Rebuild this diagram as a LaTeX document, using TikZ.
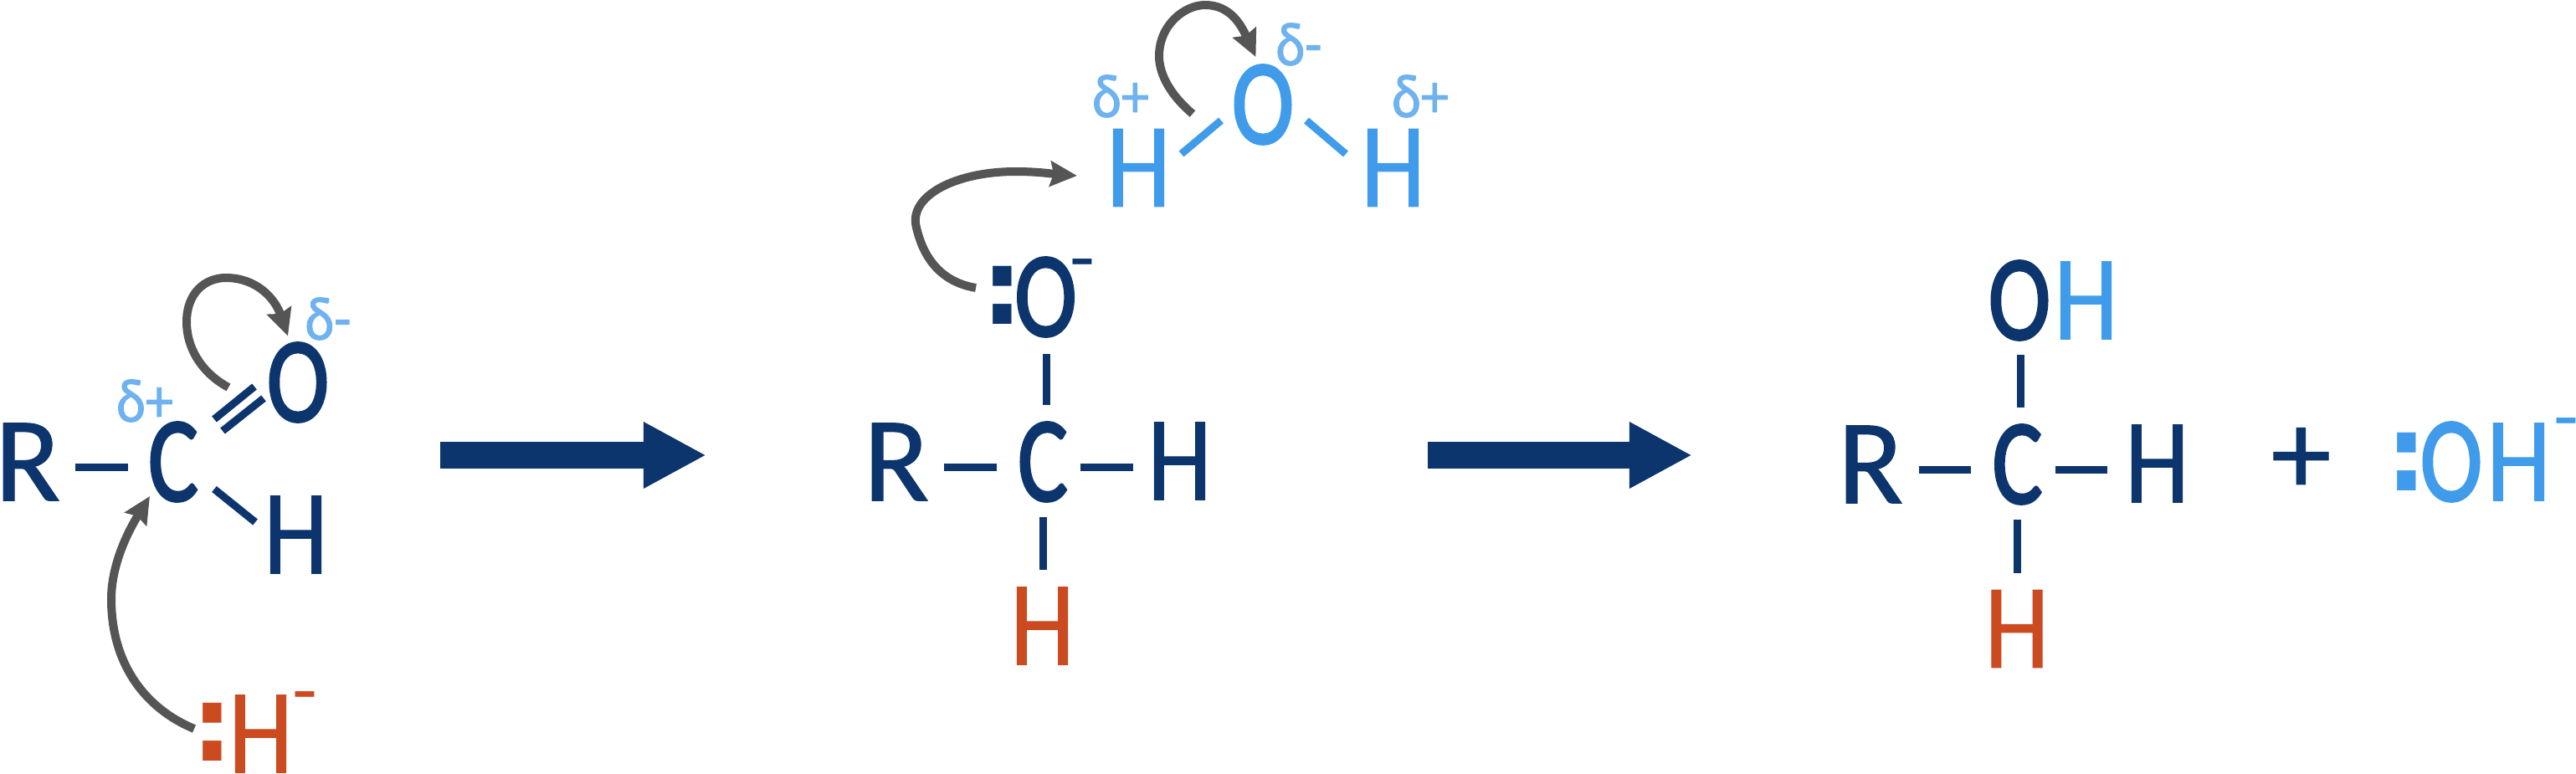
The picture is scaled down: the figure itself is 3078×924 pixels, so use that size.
\documentclass[tikz,border=0pt]{standalone}
\usepackage{fontspec}
\newfontfamily\chemfont[FakeBold=0.8]{Carlito}
\newfontfamily\roundfont[FakeBold=2.2]{Carlito}
\newfontfamily\deltafont[FakeBold=1.4]{Carlito}
\newfontfamily\dotfont{DejaVu Sans Bold}
\newfontfamily\dashfont{Liberation Sans Bold}
\usetikzlibrary{arrows.meta}
\definecolor{navy}{HTML}{0D356D}
\definecolor{waterblue}{HTML}{409CEA}
\definecolor{deltablue}{HTML}{6EB2F0}
\definecolor{hydride}{HTML}{CB4A1F}
\definecolor{curly}{HTML}{555555}
\tikzset{
    atom/.style={font=\chemfont\fontsize{41}{41}\selectfont, inner sep=0, outer sep=0},
    hatom/.style={atom, xscale=0.86, transform shape},
    ratom/.style={atom, font=\roundfont\fontsize{41}{41}\selectfont, xscale=0.78, transform shape},
    delta/.style={font=\deltafont\fontsize{21}{21}\selectfont, inner sep=0, text=deltablue, xscale=0.9, transform shape},
    lonepair/.style={font=\dotfont\fontsize{36}{36}\selectfont, inner sep=0, anchor=base},
    charge/.style={font=\dashfont\fontsize{16}{16}\selectfont, inner sep=0, anchor=base, xscale=1.6, transform shape},
    bond/.style={navy, line width=0.09cm},
    reaction/.style={navy, line width=0.31cm, -{Triangle[length=0.75cm,width=0.74cm]}},
    push/.style={curly, line width=0.1cm, -{Stealth[length=0.32cm,width=0.3cm,inset=0.04cm]}},
}
\begin{document}
\begin{tikzpicture}[x=0.01cm, y=-0.01cm]
    \useasboundingbox (0,0) rectangle (3078,924);

    % Aldehyde and hydride
    \node[atom, text=navy] (R1) at (33, 552) {R};
    \node[ratom, text=navy] (C1) at (207, 552) {C};
    \node[ratom, text=navy] (O1) at (356, 457) {O};
    \node[hatom, text=navy] (H1) at (353.5, 639) {H};
    \node[delta] (d1) at (173, 479) {δ+};
    \node[delta] (d2) at (392, 381) {δ-};
    \node[hatom, text=hydride] (H2) at (311.5, 877) {H};
    \node[lonepair, text=hydride] (p1) at (253.5, 909) {:};
    \node[charge, text=hydride] (m1) at (364.5, 844) {-};

    % Draw the bonds of the aldehyde
    \draw[bond] ([shift={(57,6)}]R1.center) -- ([shift={(-54,6)}]C1.center);
    \draw[bond] ([shift={(49,-51)}]C1.center) -- ([shift={(-52,5)}]O1.center);
    \draw[bond] ([shift={(59,-37)}]C1.center) -- ([shift={(-41,19)}]O1.center);
    \draw[bond] ([shift={(49,32.5)}]C1.center) -- ([shift={(-48.5,-15)}]H1.center);

    % Curly arrows of the first step
    \coordinate (a1) at (273, 463);
    \coordinate (a2) at (344, 401.5);
    \draw[push] (a1) .. controls (240,445) and (223,415) .. (223,385) .. controls (223,350) and (245,332) .. (270,332) .. controls (305,332) and (328,355) .. (a2);
    \coordinate (a3) at (232, 871);
    \coordinate (a4) at (179, 593);
    \draw[push] (a3) .. controls (170,845) and (133,790) .. (133,716) .. controls (133,678) and (150,640) .. (a4);

    % First reaction arrow
    \coordinate (r1) at (526, 544);
    \coordinate (r2) at (844, 544);
    \draw[reaction] (r1) -- (r2);

    % Alkoxide and water
    \node[atom, text=navy] (R2) at (1071, 552) {R};
    \node[ratom, text=navy] (C2) at (1246, 552) {C};
    \node[hatom, text=navy] (H3) at (1409.5, 551) {H};
    \node[hatom, text=hydride] (H4) at (1245.5, 748) {H};
    \node[ratom, text=navy] (O2) at (1249.5, 355) {O};
    \node[lonepair, text=navy] (p2) at (1198, 387) {:};
    \node[charge, text=navy] (m2) at (1293.5, 327) {-};
    \node[ratom, text=waterblue] (O3) at (1509, 125) {O};
    \node[hatom, text=waterblue] (H5) at (1360.5, 200.5) {H};
    \node[hatom, text=waterblue] (H6) at (1664.5, 200.5) {H};
    \node[delta] (d3) at (1339, 115) {δ+};
    \node[delta] (d4) at (1552, 53) {δ-};
    \node[delta] (d5) at (1697, 115) {δ+};

    % Draw the bonds of the alkoxide and of water
    \draw[bond] ([shift={(57,6)}]R2.center) -- ([shift={(-55,6)}]C2.center);
    \draw[bond] ([shift={(45,6)}]C2.center) -- ([shift={(-55.5,7)}]H3.center);
    \draw[bond] ([shift={(4,-68)}]C2.center) -- ([shift={(0.5,68)}]O2.center);
    \draw[bond] ([shift={(0.5,66)}]C2.center) -- ([shift={(1,-67)}]H4.center);
    \draw[bond, waterblue] ([shift={(-50,19)}]O3.center) -- ([shift={(51,-16.5)}]H5.center);
    \draw[bond, waterblue] ([shift={(52,19)}]O3.center) -- ([shift={(-56.5,-16.5)}]H6.center);

    % Curly arrows of the second step
    \coordinate (a5) at (1425, 136);
    \coordinate (a6) at (1500.5, 68);
    \draw[push] (a5) .. controls (1400,115) and (1385,90) .. (1385,67) .. controls (1385,30) and (1415,6) .. (1440,6) .. controls (1470,6) and (1483,30) .. (a6);
    \coordinate (a7) at (1166, 344);
    \coordinate (a8) at (1287, 210);
    \draw[push] (a7) .. controls (1130,338) and (1105,315) .. (1095,272) .. controls (1085,235) and (1140,205) .. (1214,205) .. controls (1240,205) and (1260,208) .. (a8);

    % Second reaction arrow
    \coordinate (r3) at (1706, 544);
    \coordinate (r4) at (2022, 544);
    \draw[reaction] (r3) -- (r4);

    % Alcohol and hydroxide
    \node[atom, text=navy] (R3) at (2235, 555) {R};
    \node[ratom, text=navy] (C3) at (2410.5, 555) {C};
    \node[hatom, text=navy] (H7) at (2577.5, 554) {H};
    \node[ratom, text=navy] (O4) at (2413, 359) {O};
    \node[hatom, text=waterblue] (H8) at (2492.5, 359) {H};
    \node[hatom, text=hydride] (H9) at (2410, 751.5) {H};
    \node[atom, text=navy] (plus) at (2749.5, 551) {+};
    \node[ratom, text=waterblue] (O5) at (2929, 552) {O};
    \node[hatom, text=waterblue] (H10) at (3009.5, 552) {H};
    \node[lonepair, text=waterblue] (p3) at (2876, 586) {:};
    \node[charge, text=waterblue] (m3) at (3066, 517) {-};

    % Draw the bonds of the alcohol
    \draw[bond] ([shift={(58,6.5)}]R3.center) -- ([shift={(-55.5,6.5)}]C3.center);
    \draw[bond] ([shift={(45,6.5)}]C3.center) -- ([shift={(-59.5,7.5)}]H7.center);
    \draw[bond] ([shift={(4,-68)}]C3.center) -- ([shift={(1.5,65)}]O4.center);
    \draw[bond] ([shift={(0,66)}]C3.center) -- ([shift={(0.5,-67)}]H9.center);
\end{tikzpicture}
\end{document}
